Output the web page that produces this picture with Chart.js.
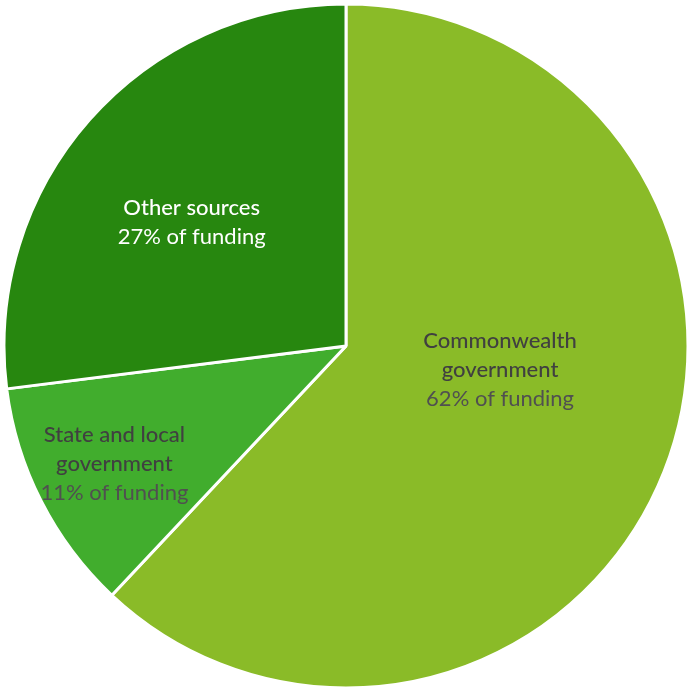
<!DOCTYPE html>
<html>
<head>
<meta charset="utf-8">
<title>Funding sources</title>
<script src="https://cdn.jsdelivr.net/npm/chart.js@4.4.1/dist/chart.umd.min.js"></script>
<style>
    html, body { margin: 0; padding: 0; background: #ffffff; }
    #wrap { position: relative; width: 689px; height: 688px; }
</style>
</head>
<body>
<div id="wrap"><canvas id="fundingChart"></canvas></div>
<script>
    'use strict';

    // ------------------------------------------------------------------
    // DATA
    // ------------------------------------------------------------------
    var categories = ['Commonwealth government', 'State and local government', 'Other sources'];
    var nameLines = [['Commonwealth', 'government'], ['State and local', 'government'], ['Other sources']];
    var shares = [62, 11, 27];
    var sliceColors = ['#8abb28', '#41ad2d', '#27870f'];

    // label placement inside each slice: angle shift (deg) from the bisector, radius fraction
    var labelPlacement = [
        { shift: -12.7, frac: 0.456 },
        { shift: 0, frac: 0.76 },
        { shift: -2.6, frac: 0.579 }
    ];
    var nameColors = ['#404040', '#404040', '#ffffff'];
    var valueColors = ['#505050', '#505050', '#ffffff'];

    // ------------------------------------------------------------------
    // SLICE LABELS
    // ------------------------------------------------------------------
    var sliceLabels = {
        id: 'sliceLabels',
        afterDatasetsDraw: function(chart) {
            var ctx = chart.ctx;
            var meta = chart.getDatasetMeta(0);
            var lineH = 29;
            meta.data.forEach(function(arc, i) {
                var p = arc.getProps(['x', 'y', 'startAngle', 'endAngle', 'outerRadius'], true);
                var place = labelPlacement[i];
                var mid = (p.startAngle + p.endAngle) / 2 + place.shift * Math.PI / 180;
                var r = p.outerRadius * place.frac;
                var cx = p.x + Math.cos(mid) * r;
                var cy = p.y + Math.sin(mid) * r;

                var lines = nameLines[i].slice();
                var total = lines.length + 1;
                var y0 = cy - (total - 1) * lineH / 2;

                ctx.save();
                ctx.textAlign = 'center';
                ctx.textBaseline = 'middle';
                ctx.font = '500 22px Lato, sans-serif';
                ctx.fillStyle = nameColors[i];
                lines.forEach(function(t, k) {
                    ctx.fillText(t, cx, y0 + k * lineH);
                });
                ctx.font = '400 22px Lato, sans-serif';
                ctx.fillStyle = valueColors[i];
                ctx.fillText(shares[i] + '% of funding', cx, y0 + lines.length * lineH);
                ctx.restore();
            });
        }
    };

    // ------------------------------------------------------------------
    // CHART
    // ------------------------------------------------------------------
    new Chart(document.getElementById('fundingChart'), {
        type: 'pie',
        data: {
            labels: categories,
            datasets: [{
                data: shares,
                backgroundColor: sliceColors,
                borderColor: '#ffffff',
                borderWidth: 3,
                hoverOffset: 0
            }]
        },
        options: {
            responsive: true,
            maintainAspectRatio: false,
            animation: false,
            radius: 342,
            layout: { padding: { left: 3, top: 4, right: 0, bottom: 0 } },
            plugins: {
                legend: { display: false },
                tooltip: { enabled: false }
            }
        },
        plugins: [sliceLabels]
    });
</script>
</body>
</html>
